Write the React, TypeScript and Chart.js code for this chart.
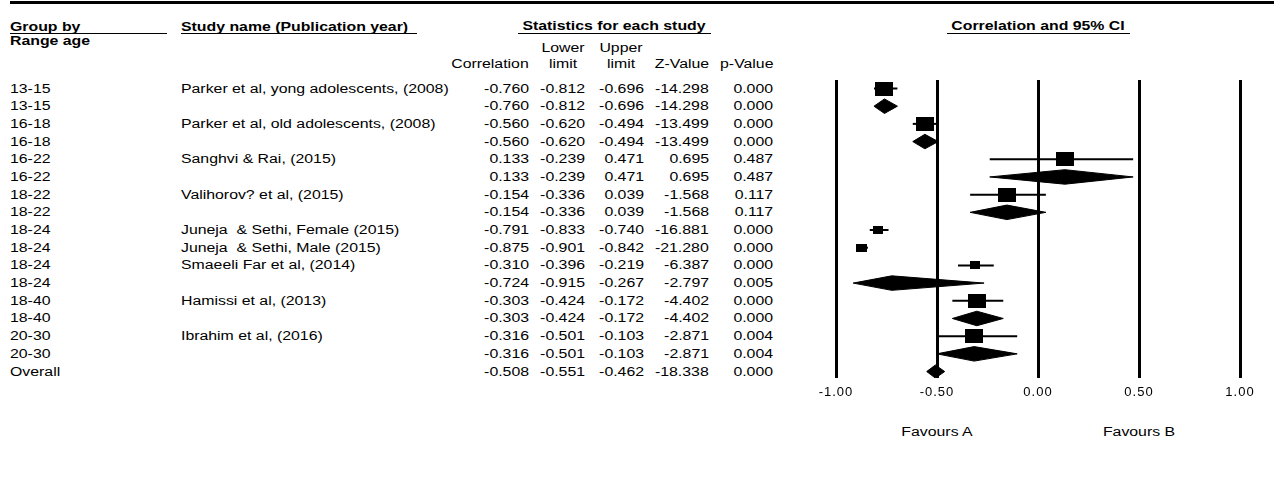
import React, { useEffect, useRef } from "react";
import { Chart, registerables } from "chart.js";

Chart.register(...registerables);

// ---------- data ----------
const groups = [
  "13-15", "13-15", "16-18", "16-18", "16-22", "16-22", "18-22", "18-22",
  "18-24", "18-24", "18-24", "18-24", "18-40", "18-40", "20-30", "20-30", "Overall",
];
const studies = [
  "Parker et al, yong adolescents, (2008)", "",
  "Parker et al, old adolescents, (2008)", "",
  "Sanghvi & Rai, (2015)", "",
  "Valihorov? et al, (2015)", "",
  "Juneja  & Sethi, Female (2015)",
  "Juneja  & Sethi, Male (2015)",
  "Smaeeli Far et al, (2014)", "",
  "Hamissi et al, (2013)", "",
  "Ibrahim et al, (2016)", "",
  "",
];
const rowTypes = [
  "study", "subgroup", "study", "subgroup", "study", "subgroup", "study", "subgroup",
  "study", "study", "study", "subgroup", "study", "subgroup", "study", "subgroup", "overall",
];
const correlation = [
  -0.76, -0.76, -0.56, -0.56, 0.133, 0.133, -0.154, -0.154,
  -0.791, -0.875, -0.31, -0.724, -0.303, -0.303, -0.316, -0.316, -0.508,
];
const lowerLimit = [
  -0.812, -0.812, -0.62, -0.62, -0.239, -0.239, -0.336, -0.336,
  -0.833, -0.901, -0.396, -0.915, -0.424, -0.424, -0.501, -0.501, -0.551,
];
const upperLimit = [
  -0.696, -0.696, -0.494, -0.494, 0.471, 0.471, 0.039, 0.039,
  -0.74, -0.842, -0.219, -0.267, -0.172, -0.172, -0.103, -0.103, -0.462,
];
const zValues = [
  -14.298, -14.298, -13.499, -13.499, 0.695, 0.695, -1.568, -1.568,
  -16.881, -21.28, -6.387, -2.797, -4.402, -4.402, -2.871, -2.871, -18.338,
];
const pValues = [
  0.0, 0.0, 0.0, 0.0, 0.487, 0.487, 0.117, 0.117,
  0.0, 0.0, 0.0, 0.005, 0.0, 0.0, 0.004, 0.004, 0.0,
];
// relative weight (%) of each study within its subgroup
const subgroupWeight = [
  100, null, 100, null, 100, null, 100, null,
  31, 35, 34, null, 100, null, 100, null, null,
];
const axisTicks = [-1, -0.5, 0, 0.5, 1];
const favourLabels = ["Favours A", "Favours B"];
const favourAt = [-0.5, 0.5];

// ---------- layout ----------
const W = 1274;
const H = 479;
const FONT = '"Liberation Sans", Arial, sans-serif';
const SX = 1.32;
const ROW_Y0 = 88.5;
const ROW_STEP = 17.69;
const CANVAS_LEFT = 800;
const CANVAS_TOP = 70;
const CANVAS_W = 474;
const CANVAS_H = 340;
const AREA_LEFT = 836;
const AREA_RIGHT = 1240;
const AREA_TOP = 80;
const AREA_BOTTOM = 378;
const rowY = (i: number) => ROW_Y0 + i * ROW_STEP;
const valueX = (v: number) => AREA_LEFT + ((v + 1) / 2) * (AREA_RIGHT - AREA_LEFT);

function Txt({ x, y, align = "left", bold = false, children }: any) {
  const style: any = {
    position: "absolute",
    top: y - 7,
    height: 14,
    lineHeight: "14px",
    fontSize: 12,
    fontFamily: FONT,
    fontWeight: bold ? 700 : 400,
    whiteSpace: "pre",
    color: "#000",
  };
  if (align === "left") {
    style.left = x;
    style.transformOrigin = "0 50%";
    style.transform = `scaleX(${SX})`;
  } else if (align === "right") {
    style.right = W - x;
    style.transformOrigin = "100% 50%";
    style.transform = `scaleX(${SX})`;
  } else {
    style.left = x;
    style.transformOrigin = "50% 50%";
    style.transform = `translateX(-50%) scaleX(${SX})`;
  }
  return <div style={style}>{children}</div>;
}

function HLine({ x1, x2, y, h = 1 }: any) {
  return (
    <div
      style={{ position: "absolute", left: x1, top: y, width: x2 - x1, height: h, background: "#000" }}
    />
  );
}

function makeSquare(weight: number) {
  const f = Math.sqrt(weight / 100);
  const c = document.createElement("canvas");
  c.width = Math.max(2, Math.round(18 * f));
  c.height = Math.max(2, Math.round(14 * f));
  const g = c.getContext("2d")!;
  g.fillStyle = "#000";
  g.fillRect(0, 0, c.width, c.height);
  return c;
}

function ForestChart() {
  const ref = useRef<HTMLCanvasElement>(null);
  useEffect(() => {
    const datasets: any[] = [];
    const studyRows: number[] = [];
    rowTypes.forEach((t, i) => {
      if (t === "study") {
        studyRows.push(i);
        datasets.push({
          type: "line",
          data: [
            { x: lowerLimit[i], y: i },
            { x: upperLimit[i], y: i },
          ],
          borderColor: "#000",
          borderWidth: 2,
          pointRadius: 0,
          fill: false,
          order: 1,
        });
      } else {
        const h = t === "overall" ? 0.37 : 0.41;
        datasets.push({
          type: "line",
          data: [
            { x: lowerLimit[i], y: i },
            { x: correlation[i], y: i - h },
            { x: upperLimit[i], y: i },
            { x: correlation[i], y: i + h },
            { x: lowerLimit[i], y: i },
          ],
          borderColor: "#000",
          backgroundColor: "#000",
          borderWidth: 1,
          pointRadius: 0,
          tension: 0,
          fill: "shape",
          order: 1,
        });
      }
    });
    datasets.push({
      type: "scatter",
      data: studyRows.map((i) => ({ x: correlation[i], y: i })),
      pointStyle: studyRows.map((i) => makeSquare(subgroupWeight[i] as number)),
      pointRadius: 3,
      order: 0,
    });

    const spacing = {
      id: "tickSpacing",
      beforeDraw(chart: any) {
        chart.ctx.letterSpacing = "1px";
      },
      afterDraw(chart: any) {
        chart.ctx.letterSpacing = "0px";
      },
    };

    const chart = new Chart(ref.current!, {
      type: "scatter",
      data: { datasets },
      plugins: [spacing],
      options: {
        animation: false,
        responsive: false,
        events: [],
        layout: {
          padding: {
            left: AREA_LEFT - CANVAS_LEFT,
            right: CANVAS_LEFT + CANVAS_W - AREA_RIGHT,
            top: AREA_TOP - CANVAS_TOP,
            bottom: 2,
          },
        },
        plugins: { legend: { display: false }, tooltip: { enabled: false } },
        scales: {
          x: {
            type: "linear",
            min: axisTicks[0],
            max: axisTicks[axisTicks.length - 1],
            afterBuildTicks: (axis: any) => {
              axis.ticks = axisTicks.map((v) => ({ value: v }));
            },
            afterFit: (scale: any) => {
              scale.height = 30;
            },
            grid: { color: "#000", lineWidth: 3, drawTicks: false },
            border: { display: false },
            ticks: {
              padding: 7,
              color: "#000",
              font: { family: FONT, size: 13 },
              callback: (v: any) => Number(v).toFixed(2),
            },
          },
          y: {
            type: "linear",
            display: false,
            reverse: true,
            min: -(ROW_Y0 - AREA_TOP) / ROW_STEP,
            max: (AREA_BOTTOM - ROW_Y0) / ROW_STEP,
          },
        },
      },
    } as any);
    return () => chart.destroy();
  }, []);
  return (
    <canvas
      ref={ref}
      width={CANVAS_W}
      height={CANVAS_H}
      style={{ position: "absolute", left: CANVAS_LEFT, top: CANVAS_TOP, width: CANVAS_W, height: CANVAS_H, display: "block" }}
    />
  );
}

const numCols = [
  { right: 529, values: correlation },
  { right: 585, values: lowerLimit },
  { right: 644, values: upperLimit },
  { right: 709, values: zValues },
  { right: 773, values: pValues },
];

export default function App() {
  return (
    <div
      style={{ position: "absolute", left: 0, top: 0, width: W, height: H, background: "#fff", overflow: "hidden" }}
    >
      <HLine x1={10} x2={W} y={1} h={3} />

      <Txt x={10} y={27} bold>Group by</Txt>
      <HLine x1={10} x2={167} y={33} />
      <Txt x={10} y={41} bold>Range age</Txt>
      <Txt x={181} y={27} bold>Study name (Publication year)</Txt>
      <HLine x1={181} x2={417} y={33} />
      <Txt x={614} y={26} align="center" bold>Statistics for each study</Txt>
      <HLine x1={518} x2={711} y={33} />
      <Txt x={1038} y={26} align="center" bold>Correlation and 95% CI</Txt>
      <HLine x1={947} x2={1130} y={33} />

      <Txt x={563} y={48} align="center">Lower</Txt>
      <Txt x={621} y={48} align="center">Upper</Txt>
      <Txt x={529} y={64} align="right">Correlation</Txt>
      <Txt x={563} y={64} align="center">limit</Txt>
      <Txt x={621} y={64} align="center">limit</Txt>
      <Txt x={709} y={64} align="right">Z-Value</Txt>
      <Txt x={773} y={64} align="right">p-Value</Txt>

      {groups.map((g, i) => (
        <Txt key={"g" + i} x={10} y={rowY(i)}>{g}</Txt>
      ))}
      {studies.map((s, i) =>
        s ? <Txt key={"s" + i} x={181} y={rowY(i)}>{s}</Txt> : null
      )}
      {numCols.map((col, c) =>
        col.values.map((v, i) => (
          <Txt key={"n" + c + "_" + i} x={col.right} y={rowY(i)} align="right">
            {v.toFixed(3)}
          </Txt>
        ))
      )}

      <ForestChart />

      {favourLabels.map((f, i) => (
        <Txt key={"f" + i} x={valueX(favourAt[i])} y={432} align="center">{f}</Txt>
      ))}
    </div>
  );
}
